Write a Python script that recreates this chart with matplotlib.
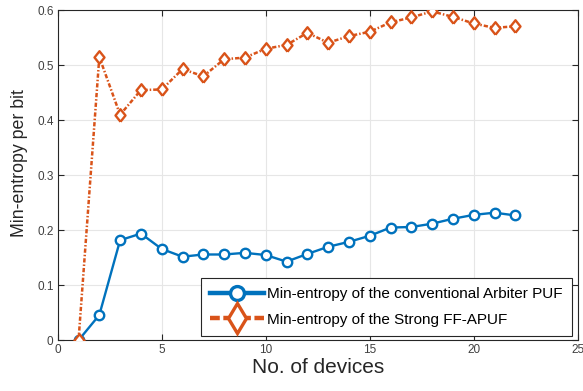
import matplotlib
matplotlib.use("Agg")
import matplotlib.pyplot as plt

devices = list(range(1, 23))
arbiter = [0.0, 0.046, 0.182, 0.194, 0.166, 0.152, 0.156, 0.156, 0.159, 0.155, 0.143,
           0.157, 0.170, 0.179, 0.190, 0.205, 0.206, 0.212, 0.221, 0.228, 0.232, 0.227]
ffapuf = [0.0, 0.515, 0.410, 0.455, 0.456, 0.493, 0.480, 0.511, 0.514, 0.530, 0.537,
          0.559, 0.541, 0.553, 0.561, 0.578, 0.587, 0.598, 0.588, 0.576, 0.568, 0.571]
label_arbiter = "Min-entropy of the conventional Arbiter PUF"
label_ffapuf = "Min-entropy of the Strong FF-APUF"
xticks = [0, 5, 10, 15, 20, 25]
yticks = [0, 0.1, 0.2, 0.3, 0.4, 0.5, 0.6]

plt.rcParams['font.family'] = ['Liberation Sans', 'DejaVu Sans']

fig = plt.figure(figsize=(5.83, 3.91), dpi=100)
ax = fig.add_axes([0.099, 0.1297, 0.892, 0.844])

blue = '#0072BD'
orange = '#D95319'
diamond = [(0, -1), (0.8, 0), (0, 1), (-0.8, 0), (0, -1)]

l1, = ax.plot(devices, arbiter, '-', color=blue, lw=1.7, marker='o', ms=6.8,
              mfc='white', mec=blue, mew=1.7, label=label_arbiter)
l2, = ax.plot(devices, ffapuf, color=orange, lw=1.8, marker=diamond, ms=9,
              mfc='white', mec=orange, mew=1.7, label=label_ffapuf, zorder=3)
l2.set_dashes([1.7, 0.8, 0.6, 0.8])

ax.set_xlim(0, 25)
ax.set_ylim(0, 0.6)
ax.set_xticks(xticks)
ax.set_yticks(yticks)
ax.set_xticklabels([str(t) for t in xticks])
ax.set_yticklabels(['0', '0.1', '0.2', '0.3', '0.4', '0.5', '0.6'])
ax.tick_params(direction='in', top=True, right=True, labelsize=8.5,
               labelcolor='#404040', color='#262626', length=4, width=0.8, pad=3)
ax.grid(True, color='#e6e6e6', lw=0.8)
ax.set_axisbelow(True)
for s in ax.spines.values():
    s.set_color('#262626')
    s.set_linewidth(0.8)

ax.set_xlabel('No. of devices', fontsize=15, color='#262626', labelpad=1)
ax.set_ylabel('Min-entropy per bit', fontsize=12.8, color='#262626')
ax.yaxis.set_label_coords(-0.057, 0.536)

leg = ax.legend(loc='lower right', fontsize=11, frameon=True, fancybox=False,
                edgecolor='#262626', framealpha=1, handlelength=3.5,
                borderpad=0.6, labelspacing=0.75, handletextpad=0.25,
                borderaxespad=0, bbox_to_anchor=(0.989, 0.013))
leg.get_frame().set_linewidth(0.8)
hl = leg.get_lines()
hl[0].set_linewidth(3.2)
hl[0].set_markersize(10)
hl[0].set_markeredgewidth(2.4)
hl[1].set_linewidth(3.2)
hl[1].set_marker('d')
hl[1].set_markersize(15)
hl[1].set_markeredgewidth(2.4)
hl[1].set_dashes([2.2, 0.8, 1.2, 0.8])

fig.savefig('out.png', dpi=100)
